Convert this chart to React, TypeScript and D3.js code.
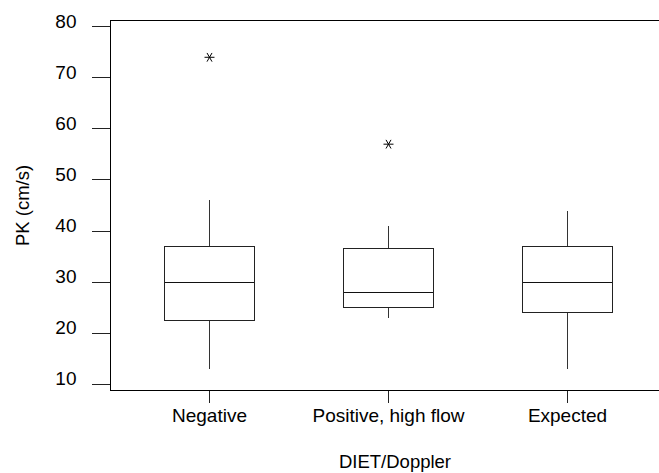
import React, {useEffect, useRef} from 'react';
import * as d3 from 'd3';

// values
const categories = ['Negative', 'Positive, high flow', 'Expected'];
const whiskerLow = [13, 23, 13];
const q1 = [22.5, 25, 24];
const median = [30, 28, 30];
const q3 = [37, 36.5, 37];
const whiskerHigh = [46, 41, 44];
const outliers = [[74], [57], []];
const yTicks = [10, 20, 30, 40, 50, 60, 70, 80];

const W = 659;
const H = 473;

export default function App() {
    const ref = useRef<SVGSVGElement>(null);

    useEffect(() => {
        const svg = d3.select(ref.current);
        svg.selectAll('*').remove();

        const font = 'Liberation Sans, Arial, sans-serif';
        const left = 110, top = 20.5, bottom = 390.5;

        const y = d3.scaleLinear().domain([8.8, 81.2]).range([bottom, top]);
        const x = d3.scaleBand().domain(categories).range([120, 657]).padding(0);
        const bw = x.bandwidth();
        const cx = (c: string) => (x(c) as number) + bw / 2;

        const g = svg.append('g').attr('shape-rendering', 'crispEdges');

        // frame: top, left, bottom (no right side)
        g.append('line').attr('x1', left).attr('x2', W).attr('y1', top).attr('y2', top).attr('stroke', '#000');
        g.append('line').attr('x1', left).attr('x2', left).attr('y1', top).attr('y2', bottom).attr('stroke', '#000');
        g.append('line').attr('x1', left).attr('x2', W).attr('y1', bottom).attr('y2', bottom).attr('stroke', '#000');

        // y ticks
        const yt = g.selectAll('.yt').data(yTicks).enter().append('g');
        yt.append('line')
            .attr('x1', left - 18).attr('x2', left)
            .attr('y1', d => y(d)).attr('y2', d => y(d))
            .attr('stroke', '#222');
        yt.append('text')
            .attr('x', 76.5)
            .attr('y', d => y(d) + 1)
            .attr('text-anchor', 'end')
            .attr('font-family', font)
            .attr('font-size', 19)
            .attr('fill', '#000')
            .text(d => d);

        // x ticks
        const xt = g.selectAll('.xt').data(categories).enter().append('g');
        xt.append('line')
            .attr('x1', d => cx(d)).attr('x2', d => cx(d))
            .attr('y1', bottom).attr('y2', bottom + 12)
            .attr('stroke', '#222');
        xt.append('text')
            .attr('x', d => cx(d))
            .attr('y', 421.5)
            .attr('text-anchor', 'middle')
            .attr('font-family', font)
            .attr('font-size', 19)
            .attr('fill', '#000')
            .text(d => d);

        // boxes
        const boxes = g.selectAll('.box').data(categories).enter().append('g');
        const half = bw * 0.25;
        boxes.append('line')
            .attr('x1', d => cx(d)).attr('x2', d => cx(d))
            .attr('y1', (d, i) => y(whiskerHigh[i])).attr('y2', (d, i) => y(q3[i]))
            .attr('stroke', '#333');
        boxes.append('line')
            .attr('x1', d => cx(d)).attr('x2', d => cx(d))
            .attr('y1', (d, i) => y(q1[i])).attr('y2', (d, i) => y(whiskerLow[i]))
            .attr('stroke', '#333');
        boxes.append('rect')
            .attr('x', d => cx(d) - half)
            .attr('width', half * 2)
            .attr('y', (d, i) => y(q3[i]))
            .attr('height', (d, i) => y(q1[i]) - y(q3[i]))
            .attr('fill', 'none')
            .attr('stroke', '#222');
        boxes.append('line')
            .attr('x1', d => cx(d) - half).attr('x2', d => cx(d) + half)
            .attr('y1', (d, i) => y(median[i])).attr('y2', (d, i) => y(median[i]))
            .attr('stroke', '#111');

        // outliers as asterisks
        const pts = categories.flatMap((c, i) => outliers[i].map(v => ({c, v})));
        const star = d3.symbol().type(d3.symbolAsterisk).size(70);
        svg.selectAll('.out').data(pts).enter().append('path')
            .attr('d', star() as string)
            .attr('transform', d => `translate(${cx(d.c)},${y(d.v)}) rotate(90)`)
            .attr('fill', 'none')
            .attr('stroke', '#000')
            .attr('stroke-width', 1);

        // axis titles
        svg.append('text')
            .attr('x', 395)
            .attr('y', 467.5)
            .attr('text-anchor', 'middle')
            .attr('font-family', font)
            .attr('font-size', 18.5)
            .attr('fill', '#000')
            .text('DIET/Doppler');
        svg.append('text')
            .attr('transform', `translate(28.7,${y(45)}) rotate(-90)`)
            .attr('text-anchor', 'middle')
            .attr('font-family', font)
            .attr('font-size', 18.5)
            .attr('fill', '#000')
            .text('PK (cm/s)');
    }, []);

    return (
        <svg ref={ref} width={W} height={H}
             style={{position: 'absolute', left: 0, top: 0, background: '#fff'}}/>
    );
}
